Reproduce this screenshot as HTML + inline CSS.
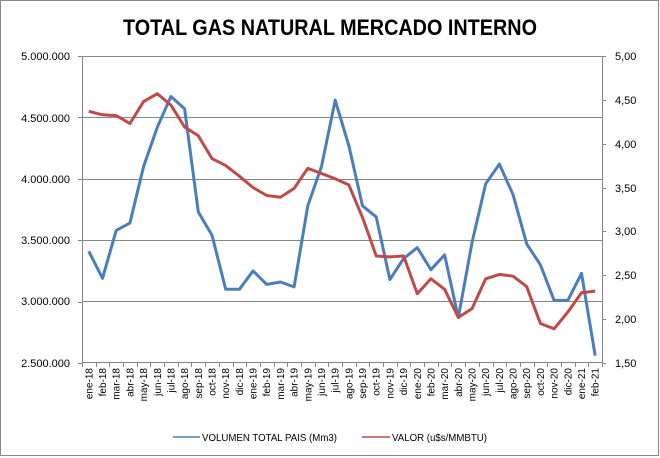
<!DOCTYPE html>
<html><head><meta charset="utf-8"><style>
html,body{margin:0;padding:0;background:#fff}
svg{display:block;font-family:"Liberation Sans",sans-serif}
</style></head><body>
<svg id="s" width="660" height="458" viewBox="0 0 660 458" xmlns="http://www.w3.org/2000/svg">
<rect x="0.5" y="0.5" width="658" height="455" fill="#fff" stroke="#888" stroke-width="1"/>
<text x="330" y="35" text-anchor="middle" font-size="22" font-weight="bold" textLength="414" lengthAdjust="spacingAndGlyphs" fill="#000">TOTAL GAS NATURAL MERCADO INTERNO</text>
<g stroke="#868686" stroke-width="1">
<line x1="82" y1="56.5" x2="602" y2="56.5"/>
<line x1="82" y1="117.5" x2="602" y2="117.5"/>
<line x1="82" y1="179.5" x2="602" y2="179.5"/>
<line x1="82" y1="240.5" x2="602" y2="240.5"/>
<line x1="82" y1="301.5" x2="602" y2="301.5"/>
<line x1="82" y1="362.5" x2="602" y2="362.5"/>
<line x1="82.5" y1="56" x2="82.5" y2="363"/>
<line x1="602.5" y1="56" x2="602.5" y2="363"/>
</g>
<g id="ticks" stroke="#868686" stroke-width="1"></g>
<g font-size="11" fill="#000" text-anchor="end">
<text x="70" y="60">5.000.000</text>
<text x="70" y="122">4.500.000</text>
<text x="70" y="183">4.000.000</text>
<text x="70" y="244">3.500.000</text>
<text x="70" y="305">3.000.000</text>
<text x="70" y="367">2.500.000</text>
</g>
<g font-size="11" fill="#000" text-anchor="start">
<text x="615" y="60">5,00</text>
<text x="615" y="104">4,50</text>
<text x="615" y="148">4,00</text>
<text x="615" y="192">3,50</text>
<text x="615" y="235">3,00</text>
<text x="615" y="279">2,50</text>
<text x="615" y="323">2,00</text>
<text x="615" y="367">1,50</text>
</g>
<g id="xl" font-size="10" fill="#000" text-anchor="end">
<text>ene-18</text><text>feb-18</text><text>mar-18</text><text>abr-18</text><text>may-18</text><text>jun-18</text><text>jul-18</text><text>ago-18</text><text>sep-18</text><text>oct-18</text><text>nov-18</text><text>dic-18</text>
<text>ene-19</text><text>feb-19</text><text>mar-19</text><text>abr-19</text><text>may-19</text><text>jun-19</text><text>jul-19</text><text>ago-19</text><text>sep-19</text><text>oct-19</text><text>nov-19</text><text>dic-19</text>
<text>ene-20</text><text>feb-20</text><text>mar-20</text><text>abr-20</text><text>may-20</text><text>jun-20</text><text>jul-20</text><text>ago-20</text><text>sep-20</text><text>oct-20</text><text>nov-20</text><text>dic-20</text>
<text>ene-21</text><text>feb-21</text>
</g>
<polyline id="blue" fill="none" stroke="#4a7ebb" stroke-width="3" stroke-linejoin="round"/>
<polyline id="red" fill="none" stroke="#be4b48" stroke-width="3" stroke-linejoin="round"/>
<line x1="173" y1="437" x2="200" y2="437" stroke="#4a7ebb" stroke-width="1.5"/>
<text x="202" y="441" font-size="10" textLength="135" lengthAdjust="spacingAndGlyphs">VOLUMEN TOTAL PAIS (Mm3)</text>
<line x1="362" y1="437" x2="390" y2="437" stroke="#be4b48" stroke-width="1.5"/>
<text x="392" y="441" font-size="10" textLength="95" lengthAdjust="spacingAndGlyphs">VALOR (u$s/MMBTU)</text>
</svg>
<script>
var B=[3.41,3.19,3.58,3.64,4.10,4.42,4.67,4.57,3.73,3.54,3.10,3.10,3.25,3.14,3.16,3.12,3.78,4.10,4.64,4.27,3.78,3.69,3.18,3.35,3.44,3.26,3.38,2.87,3.48,3.96,4.12,3.87,3.47,3.30,3.01,3.01,3.23,2.56];
var R=[4.37,4.33,4.32,4.23,4.48,4.57,4.44,4.19,4.09,3.83,3.75,3.63,3.50,3.41,3.39,3.49,3.72,3.66,3.60,3.53,3.16,2.72,2.71,2.72,2.29,2.46,2.34,2.02,2.12,2.46,2.51,2.49,2.37,1.95,1.89,2.08,2.30,2.32];
var w=520/38,pb=[],pr=[];
for(var i=0;i<38;i++){var x=82+w*(i+0.5);pb.push(x.toFixed(1)+","+(56+(5-B[i])*122.8).toFixed(1));pr.push(x.toFixed(1)+","+(56+(5-R[i])*87.71).toFixed(1));}
document.getElementById("blue").setAttribute("points",pb.join(" "));
document.getElementById("red").setAttribute("points",pr.join(" "));
var t=document.getElementById("xl").children;
for(var i=0;i<t.length;i++){var x=82+w*(i+0.5)+3.5;t[i].setAttribute("transform","translate("+x.toFixed(1)+",368) rotate(-90)");}
var g=document.getElementById("ticks"),h="";
for(var i=0;i<=38;i++){var x=Math.round(82+w*i)+0.5;h+='<line x1="'+x+'" y1="363" x2="'+x+'" y2="367"/>';}
for(var i=0;i<6;i++){var y=Math.round(56+i*61.4)+0.5;h+='<line x1="78" y1="'+y+'" x2="82" y2="'+y+'"/>';}
for(var i=0;i<8;i++){var y=Math.round(56+i*43.86)+0.5;h+='<line x1="602" y1="'+y+'" x2="606" y2="'+y+'"/>';}
g.innerHTML=h;
</script>
</body></html>
